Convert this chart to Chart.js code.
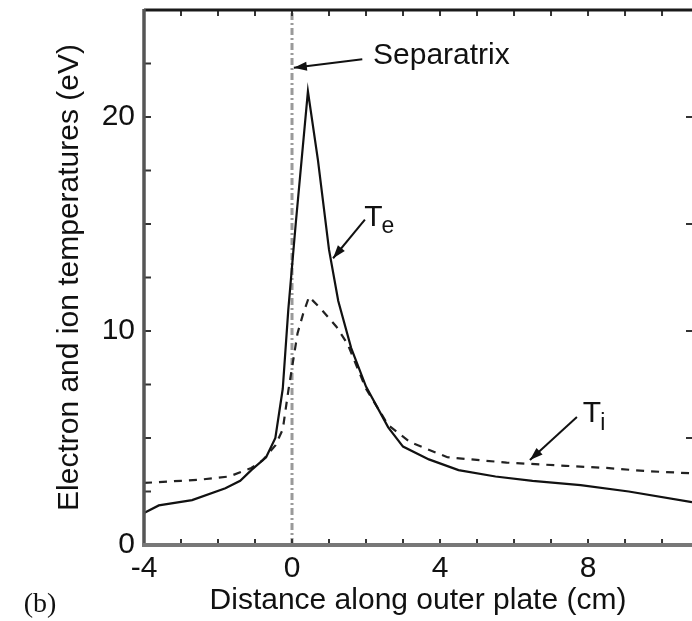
<!DOCTYPE html>
<html>
<head>
<meta charset="utf-8">
<script src="https://cdn.jsdelivr.net/npm/chart.js@4.4.1/dist/chart.umd.min.js"></script>
<style>
html, body { margin: 0; padding: 0; background: #fff; }
#wrap { width: 692px; height: 621px; position: relative; }
</style>
</head>
<body>
<div id="wrap"><canvas id="chart"></canvas></div>
<script>
// values (cm, eV)
const teX = [-4, -3.6, -2.7, -1.8, -1.4, -1.1, -0.7, -0.45, -0.25, -0.1, 0.1, 0.43, 0.7, 1.0, 1.25, 1.6, 2.0, 2.6, 3.0, 3.7, 4.5, 5.5, 6.5, 7.8, 9.1, 10.81];
const teY = [1.5, 1.85, 2.1, 2.65, 3.0, 3.5, 4.1, 5.0, 7.3, 11.0, 15.0, 21.2, 18.0, 13.8, 11.4, 9.2, 7.4, 5.5, 4.6, 4.0, 3.5, 3.2, 3.0, 2.8, 2.5, 2.0];
const tiX = [-4, -3, -2.5, -1.7, -1.1, -0.8, -0.45, -0.25, -0.1, 0.15, 0.3, 0.46, 0.8, 1.2, 1.5, 2.0, 2.6, 3.2, 4.2, 5.8, 7.4, 8.5, 9.6, 10.81];
const tiY = [2.9, 3.0, 3.05, 3.2, 3.6, 3.95, 4.65, 5.4, 7.2, 9.9, 10.8, 11.6, 11.0, 10.2, 9.4, 7.3, 5.6, 4.8, 4.1, 3.85, 3.7, 3.6, 3.45, 3.35];
const sepX = [0, 0];
const sepY = [0, 25];
const xTickLabels = [-4, 0, 4, 8];
const yTickLabels = [0, 10, 20];

const FONT = '"Liberation Sans", Arial, sans-serif';

function toPoints(xs, ys) {
    return xs.map((x, i) => ({ x: x, y: ys[i] }));
}

const decorations = {
    id: 'decorations',
    afterDraw(chart) {
        const ctx = chart.ctx;
        const a = chart.chartArea;
        const xs = chart.scales.x;
        const ys = chart.scales.y;
        const px = (x, y) => [xs.getPixelForValue(x), ys.getPixelForValue(y)];

        ctx.save();
        ctx.lineCap = 'butt';

        // inward tick marks
        ctx.strokeStyle = '#333';
        ctx.lineWidth = 2;
        for (let v = -3; v <= 10; v++) {
            const p = xs.getPixelForValue(v);
            ctx.beginPath();
            ctx.moveTo(p, a.bottom); ctx.lineTo(p, a.bottom - 6);
            ctx.moveTo(p, a.top); ctx.lineTo(p, a.top + 6);
            ctx.stroke();
        }
        for (let v = 2.5; v < 25; v += 2.5) {
            const p = ys.getPixelForValue(v);
            ctx.beginPath();
            ctx.moveTo(a.left, p); ctx.lineTo(a.left + 7, p);
            ctx.stroke();
        }
        for (let v = 5; v < 25; v += 5) {
            const p = ys.getPixelForValue(v);
            ctx.beginPath();
            ctx.moveTo(a.right, p); ctx.lineTo(a.right - 6, p);
            ctx.stroke();
        }

        // frame
        ctx.lineWidth = 3;
        ctx.strokeStyle = '#1a1a1a';
        ctx.beginPath(); ctx.moveTo(a.left, a.top); ctx.lineTo(a.right, a.top); ctx.stroke();
        ctx.strokeStyle = '#555';
        ctx.lineWidth = 3.5;
        ctx.beginPath(); ctx.moveTo(a.left, a.top - 1); ctx.lineTo(a.left, a.bottom + 2); ctx.stroke();
        ctx.strokeStyle = '#777';
        ctx.lineWidth = 4;
        ctx.beginPath(); ctx.moveTo(a.left - 2, a.bottom); ctx.lineTo(a.right, a.bottom); ctx.stroke();

        // arrows
        function arrow(from, to) {
            const [x1, y1] = px(from[0], from[1]);
            const [x2, y2] = px(to[0], to[1]);
            const ang = Math.atan2(y2 - y1, x2 - x1);
            ctx.strokeStyle = '#111';
            ctx.fillStyle = '#111';
            ctx.lineWidth = 2;
            ctx.beginPath(); ctx.moveTo(x1, y1); ctx.lineTo(x2, y2); ctx.stroke();
            const len = 13, half = 4.5;
            ctx.beginPath();
            ctx.moveTo(x2, y2);
            ctx.lineTo(x2 - len * Math.cos(ang) + half * Math.sin(ang), y2 - len * Math.sin(ang) - half * Math.cos(ang));
            ctx.lineTo(x2 - len * Math.cos(ang) - half * Math.sin(ang), y2 - len * Math.sin(ang) + half * Math.cos(ang));
            ctx.closePath();
            ctx.fill();
        }
        arrow([1.9, 22.7], [0.05, 22.3]);
        arrow([1.97, 15.2], [1.11, 13.4]);
        arrow([7.7, 5.98], [6.43, 3.97]);

        // labels
        ctx.fillStyle = '#111';
        ctx.textBaseline = 'alphabetic';
        ctx.textAlign = 'left';
        ctx.font = '30px ' + FONT;
        let [tx, ty] = px(2.19, 22.5);
        ctx.fillText('Separatrix', tx, ty);

        [tx, ty] = px(1.95, 14.9);
        ctx.fillText('T', tx, ty);
        let w = ctx.measureText('T').width;
        ctx.font = '23px ' + FONT;
        ctx.fillText('e', tx + w - 1, ty + 7);

        ctx.font = '30px ' + FONT;
        [tx, ty] = px(7.86, 5.75);
        ctx.fillText('T', tx, ty);
        w = ctx.measureText('T').width;
        ctx.font = '23px ' + FONT;
        ctx.fillText('i', tx + w - 1, ty + 8);

        ctx.font = '28px "Liberation Serif", "Times New Roman", serif';
        ctx.textAlign = 'center';
        ctx.textBaseline = 'middle';
        ctx.fillText('(b)', 40, 605);

        ctx.restore();
    }
};

const ctx = document.getElementById('chart').getContext('2d');

const tempChart = new Chart(ctx, {
    type: 'line',
    data: {
        datasets: [{
            label: 'Te',
            data: toPoints(teX, teY),
            borderColor: '#111',
            borderWidth: 2.2,
            pointRadius: 0,
            tension: 0,
            fill: false
        }, {
            label: 'Ti',
            data: toPoints(tiX, tiY),
            borderColor: '#222',
            borderWidth: 2.2,
            borderDash: [8, 7],
            pointRadius: 0,
            tension: 0,
            fill: false
        }, {
            label: 'Separatrix',
            data: toPoints(sepX, sepY),
            borderColor: '#9a9a9a',
            borderWidth: 3,
            borderDash: [7, 3, 2, 3],
            pointRadius: 0,
            fill: false
        }]
    },
    options: {
        responsive: true,
        maintainAspectRatio: false,
        animation: false,
        layout: { padding: { top: 10, left: 0, right: 0, bottom: 0 } },
        plugins: {
            legend: { display: false },
            tooltip: { enabled: false }
        },
        scales: {
            x: {
                type: 'linear',
                min: -4,
                max: 10.81,
                grid: { display: false, drawTicks: false },
                border: { display: false },
                ticks: {
                    stepSize: 1,
                    autoSkip: false,
                    maxRotation: 0,
                    padding: 6,
                    color: '#111',
                    font: { family: FONT, size: 30 },
                    callback: (v) => xTickLabels.includes(v) ? String(v) : ''
                },
                title: {
                    display: true,
                    text: 'Distance along outer plate (cm)',
                    color: '#111',
                    font: { family: FONT, size: 30 },
                    padding: { top: 0, bottom: 2 }
                },
                afterFit: (scale) => {
                    scale.height = 76;
                    scale.paddingLeft = 0;
                    scale.paddingRight = 0;
                }
            },
            y: {
                type: 'linear',
                min: 0,
                max: 25,
                grid: { display: false, drawTicks: false },
                border: { display: false },
                ticks: {
                    stepSize: 2.5,
                    autoSkip: false,
                    padding: 9,
                    color: '#111',
                    font: { family: FONT, size: 30 },
                    callback: (v) => yTickLabels.includes(v) ? String(v) : ''
                },
                title: {
                    display: true,
                    text: 'Electron and ion temperatures (eV)',
                    color: '#111',
                    font: { family: FONT, size: 30 },
                    padding: { top: 52, bottom: 0 }
                },
                afterFit: (scale) => {
                    scale.width = 144;
                    scale.paddingTop = 0;
                    scale.paddingBottom = 0;
                }
            }
        }
    },
    plugins: [decorations]
});
</script>
</body>
</html>
